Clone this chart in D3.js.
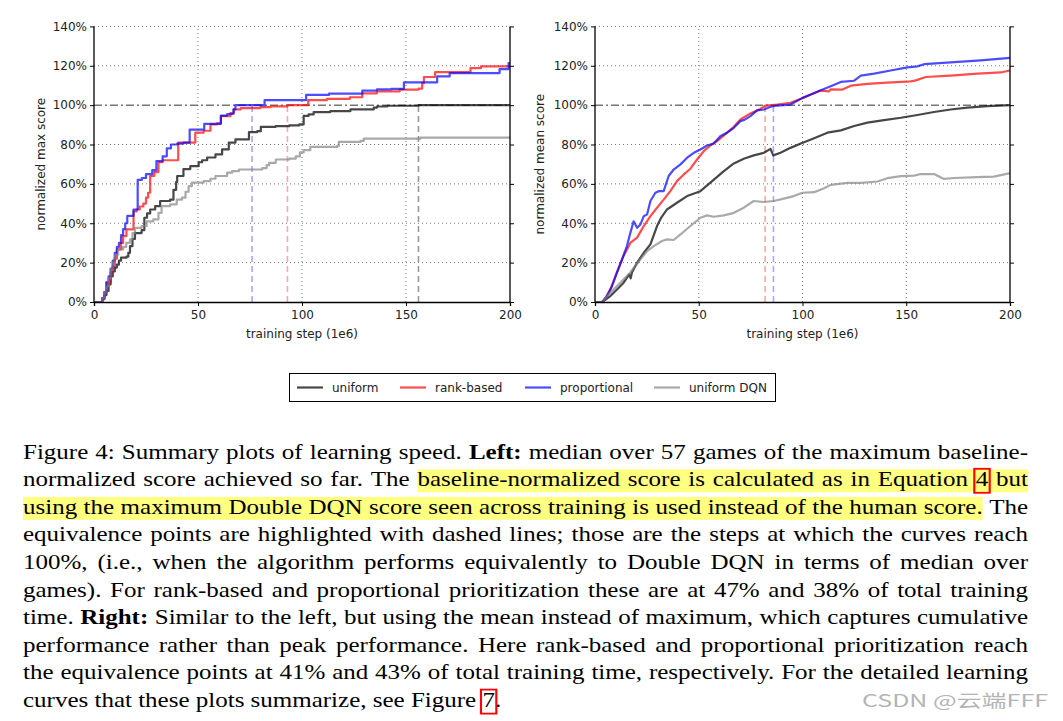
<!DOCTYPE html>
<html>
<head>
<meta charset="utf-8">
<script src="https://cdn.jsdelivr.net/npm/d3@7"></script>
<style>
  html, body { margin: 0; padding: 0; background: #fff; }
  svg { display: block; }
  .cap { font-family: "Liberation Serif", "Times New Roman", Times, serif; }
</style>
</head>
<body>
<svg id="fig" width="1063" height="721"></svg>
<script>
// ---------------- DATA ----------------
const stepTicks = [0, 50, 100, 150, 200];
const scoreTicks = [0, 20, 40, 60, 80, 100, 120, 140];
const seriesNames = ["uniform", "rank-based", "proportional", "uniform DQN"];

// Left: normalized max score (step functions) [training step (1e6), %]
const maxUniform = [[0,0],[2,0],[4,1.5],[5,3.5],[6,5.6],[7,9],[8,13],[9,15.5],[10,17.5],[11,19],[12,21],[13,22.5],[15.6,23],[16.5,25],[17.3,28.4],[18.5,32],[19.7,35],[22.9,36.5],[24.2,42.8],[25.5,45],[27,47],[29.4,48.7],[31.8,51.3],[36.6,52],[38.2,57],[39.5,61],[40,64],[43,67.5],[46.3,69],[50.3,71],[52,72],[54.4,73.4],[58.4,75],[61.6,77.5],[64.8,81],[68,82.6],[74.5,86.3],[78.5,86.8],[80.2,89],[87.4,89.3],[93.9,89.7],[98.7,90.2],[100.8,94.5],[103.2,95.3],[105.6,96.5],[113.6,97],[123.3,97.8],[134.5,98.7],[136,99.3],[141,99.7],[156,100],[200,100]];
const maxRank = [[0,0],[2,0],[4,2],[5,5],[6,9.8],[8,15],[9,18.3],[10,22],[11,26.7],[13,30],[14,33.5],[15.6,36.9],[19,46],[20.5,47],[22,48.5],[23.7,50],[25,53],[26,55.5],[27,64],[29,66],[31,71],[33,72],[40.5,81],[48.7,86],[52.7,87],[56,90.2],[59,90.7],[61,94.4],[65.6,96],[67.3,97.8],[70.5,98.5],[80,99],[85,99.4],[93,100],[103,102.5],[112,103.2],[123,104],[129,106],[136,107],[147,107.9],[156,108.4],[157.8,111.3],[158.6,114.3],[164,116.8],[181,118.8],[186,119.7],[200,119.7]];
const maxProp = [[0,0],[2,0],[4,2],[5,5],[6,10],[7,13],[8,17],[9,21],[10,25],[11,28],[12,30],[13,34],[14,37],[15,40],[16,43.7],[19,47],[21,62],[23,63],[25,65],[28,67],[30,71.6],[33,74],[35,78],[37,80],[40,80.5],[43,81],[46,87.6],[53,90.5],[61,94.7],[64,95.5],[67,97.8],[68,100],[82,102.5],[102,105.2],[113,105.9],[129,107.4],[136,108],[143,108.3],[149,111.6],[165,114.6],[171,116.3],[195,118.3],[199.3,121.3],[200,121.3]];
const maxDqn = [[0,0],[2,0],[4,2],[5,5],[6,8],[7,12],[8,16.6],[9,20],[10,24],[11.6,26.7],[14,28],[15.5,30],[17.3,31.8],[18.5,35],[19.7,37.7],[22.9,38.6],[25.3,41],[28.5,42],[31,45.3],[32.5,48.7],[36.6,49.6],[39.8,52],[42.3,53],[44,56],[45.5,58.9],[47.1,60.6],[52.7,61.4],[56,62.6],[58.4,64],[64,65.7],[66.4,66.5],[69.7,67.3],[80.9,68],[83,69.5],[84.2,70.7],[87.4,72.4],[93.9,72.8],[97,74],[99,76],[100.8,77.1],[104,78.8],[116.9,79.3],[117.7,81.3],[128.1,81.8],[129.7,83],[157,83.5],[200,83.5]];
const maxEquivalence = [76, 93, 156];          // proportional, rank-based, uniform
const maxEquivalenceSeries = [2, 1, 0];

// Right: normalized mean score
const meanUniform = [[0,0],[3.4,0],[7.4,3],[10.6,6.4],[13.8,9.8],[16.5,14],[17.2,12],[17.8,15],[20.3,20],[23.5,25],[26.7,29.3],[29.9,38.6],[32,43],[34.7,47],[39.5,50.4],[44.4,53.8],[50.8,56.3],[55.6,60.6],[62.1,66.5],[66.9,70.4],[71.7,72.8],[76.5,74.5],[81.4,75.8],[84.6,77.8],[85.9,74.5],[89.4,75.8],[94.2,78.3],[99.2,80.5],[105.6,83.2],[112,86],[118.5,87.2],[124.9,89.4],[131.3,91.1],[139.3,92.4],[147.4,93.6],[155.4,95],[163.4,96.5],[171.4,97.8],[179.5,98.7],[189.1,99.5],[200,100]];
const meanRank = [[0,0],[3.9,0],[7.4,6.4],[10.6,15],[13.8,23.4],[17,30],[20.3,32.7],[23.5,38.6],[26.7,43.6],[29.9,47.9],[33.1,52],[36.3,56.3],[39.5,61.4],[42.8,64.8],[46,67.7],[49.2,72.4],[52.4,76.6],[55.6,79.5],[58.8,81.7],[62.1,84.6],[66.9,89],[70.1,92.7],[74.9,95.8],[79.7,98.1],[82.2,99.8],[87.8,100.3],[94.2,101.2],[100,103.5],[104,105.4],[108.8,107.4],[112.8,107],[113.5,108],[119.3,107.9],[123.3,109.9],[131.3,110.8],[140.9,111.4],[152.2,112.1],[154.6,112.6],[159.4,114.3],[171.4,115],[184.3,116],[195.5,116.6],[200,117.6]];
const meanProp = [[0,0],[3.4,0],[5.8,3],[8.2,8],[10.6,15],[13,21.7],[15.4,28.4],[17,35],[18.6,41],[20.3,37.7],[21.9,39.4],[23.5,43.6],[25.1,44.5],[26.7,51.3],[29.1,55.5],[30.7,56.3],[33.1,56.3],[35.5,64],[37.9,67.3],[41.2,69.9],[44.4,73.3],[47.6,75.8],[50.8,77.5],[54,79.5],[57.2,80.5],[60.5,84.3],[63.7,86],[66.9,88.5],[70.1,91.9],[72,92.5],[74.9,94.4],[78.1,97.3],[81.4,97.8],[84.6,99.2],[87.8,99.8],[94.2,100.3],[100,103.7],[104,105.4],[108.8,107.6],[113.6,109.6],[118.5,111.8],[124.9,112.4],[128.1,115],[134.5,116],[142.5,117.6],[150.6,119.2],[155.4,119.7],[158.6,120.8],[171.4,121.7],[185.9,122.7],[200,124]];
const meanDqn = [[0,0],[3.4,0],[7.4,4.7],[12.2,9.8],[17,15],[21.9,21.7],[25.1,25.9],[28.3,28.4],[32.3,31],[34.7,31.8],[37.9,31.5],[41.2,34.3],[44.4,37.2],[47.6,40],[50.8,42.8],[54,44],[57.2,43.3],[62.1,44],[66.9,45.3],[71.7,47.9],[76.5,51.3],[81.4,50.8],[86.2,51.3],[91,52.5],[95.8,53.8],[100,55.5],[105.6,55.8],[110.4,57.8],[113.6,59.5],[121.7,60.5],[128.1,60.5],[136.1,61.2],[140.9,62.9],[147.4,63.9],[153.8,64.2],[157,65],[163.4,65],[168.2,62.5],[173.1,63],[184.3,63.4],[192.3,63.7],[200,65.5]];
const meanEquivalence = [82, 86];              // rank-based, proportional
const meanEquivalenceSeries = [1, 2];

const captionLines = [
  "Figure 4:  Summary plots of learning speed. **Left:** median over 57 games of the maximum baseline-",
  "normalized score achieved so far. The ==baseline-normalized score is calculated as in Equation [4] but==",
  "==using the maximum Double DQN score seen across training is used instead of the human score.== The",
  "equivalence points are highlighted with dashed lines; those are the steps at which the curves reach",
  "100%, (i.e., when the algorithm performs equivalently to Double DQN in terms of median over",
  "games). For rank-based and proportional prioritization these are at 47% and 38% of total training",
  "time. **Right:** Similar to the left, but using the mean instead of maximum, which captures cumulative",
  "performance rather than peak performance.  Here rank-based and proportional prioritization reach",
  "the equivalence points at 41% and 43% of total training time, respectively. For the detailed learning",
  "curves that these plots summarize, see Figure [7]."
];
const watermark = "CSDN @云端FFF";

// ---------------- STYLE ----------------
const colors = ["rgba(0,0,0,0.72)", "rgba(255,0,0,0.7)", "rgba(0,0,255,0.7)", "rgba(128,128,128,0.68)"];
const dashColors = ["rgba(0,0,0,0.4)", "rgba(255,0,0,0.35)", "rgba(0,0,255,0.35)"];
const tickFont = "DejaVu Sans, Verdana, sans-serif";

const svg = d3.select("#fig");
const y = d3.scaleLinear().domain([0, 140]).range([302, 26.4]);

function panel(x0, x1, data, curve, equiv, equivSeries, ylabel, ylabelX) {
  const x = d3.scaleLinear().domain([0, 200]).range([x0, x1]);
  const g = svg.append("g");

  g.append("g").selectAll("line").data(stepTicks.filter(d => d > 0 && d < 200)).join("line")
    .attr("x1", d => x(d)).attr("x2", d => x(d)).attr("y1", y(0)).attr("y2", y(140))
    .attr("stroke", "#777").attr("stroke-width", 1).attr("stroke-dasharray", "1,3");
  g.append("g").selectAll("line").data(scoreTicks.filter(d => d > 0 && d !== 100)).join("line")
    .attr("x1", x(0)).attr("x2", x(200)).attr("y1", d => y(d)).attr("y2", d => y(d))
    .attr("stroke", "#777").attr("stroke-width", 1).attr("stroke-dasharray", "1,3");

  g.append("line").attr("x1", x(0)).attr("x2", x(200)).attr("y1", y(100)).attr("y2", y(100))
    .attr("stroke", "rgba(60,60,60,0.7)").attr("stroke-width", 1.5).attr("stroke-dasharray", "8,3,2,3");

  g.append("g").selectAll("line").data(equiv).join("line")
    .attr("x1", d => x(d)).attr("x2", d => x(d)).attr("y1", y(0)).attr("y2", y(100))
    .attr("stroke", (d, i) => dashColors[equivSeries[i]]).attr("stroke-width", 1.6)
    .attr("stroke-dasharray", "6,4");

  const line = d3.line().x(d => x(d[0])).y(d => y(d[1])).curve(curve);
  g.append("g").selectAll("path").data(data).join("path")
    .attr("d", d => line(d)).attr("fill", "none")
    .attr("stroke", (d, i) => colors[i]).attr("stroke-width", 2.2)
    .attr("stroke-linejoin", "round");

  const left = d3.axisLeft(y).tickValues(scoreTicks).tickFormat(d => d + "%").tickSize(4).tickPadding(3);
  const right = d3.axisRight(y).tickValues(scoreTicks).tickFormat("").tickSize(4);
  const bottom = d3.axisBottom(x).tickValues(stepTicks).tickFormat(d3.format("d")).tickSize(4).tickPadding(4);
  const styleAx = a => {
    a.select(".domain").attr("stroke", "#000").attr("stroke-width", 1.3);
    a.selectAll(".tick line").attr("stroke", "#000").attr("stroke-width", 1);
    a.selectAll("text").attr("font-family", tickFont).attr("font-size", 12).attr("fill", "#222");
  };
  g.append("g").attr("transform", `translate(${x(0)},0)`).call(left).call(styleAx)
    .call(a => a.select(".domain").attr("d", `M0,${y(140)}V${y(0)}`));
  g.append("g").attr("transform", `translate(${x(200)},0)`).call(right).call(styleAx)
    .call(a => a.select(".domain").attr("d", `M0,${y(140)}V${y(0)}`));
  g.append("g").attr("transform", `translate(0,${y(0)})`).call(bottom).call(styleAx);

  g.append("text").attr("x", (x0 + x1) / 2).attr("y", 338).attr("text-anchor", "middle")
    .attr("font-family", tickFont).attr("font-size", 12).attr("fill", "#222")
    .text("training step (1e6)");
  g.append("text").attr("transform", `translate(${ylabelX},${(y(0) + y(140)) / 2}) rotate(-90)`)
    .attr("text-anchor", "middle").attr("dy", "0.35em")
    .attr("font-family", tickFont).attr("font-size", 12).attr("fill", "#222")
    .text(ylabel);
}

panel(94, 510, [maxUniform, maxRank, maxProp, maxDqn], d3.curveStepAfter,
      maxEquivalence, maxEquivalenceSeries, "normalized max score", 41);
panel(595, 1010, [meanUniform, meanRank, meanProp, meanDqn], d3.curveLinear,
      meanEquivalence, meanEquivalenceSeries, "normalized mean score", 540);

// legend
const lg = svg.append("g");
lg.append("rect").attr("x", 289.5).attr("y", 373.5).attr("width", 486).attr("height", 28)
  .attr("fill", "#fff").attr("stroke", "#000").attr("stroke-width", 1);
const legendX = [297, 400, 525, 654];
const le = lg.selectAll("g").data(seriesNames).join("g")
  .attr("transform", (d, i) => `translate(${legendX[i]},387.5)`);
le.append("line").attr("x1", 0).attr("x2", 26).attr("stroke", (d, i) => colors[i]).attr("stroke-width", 2.2);
le.append("text").attr("x", 35).attr("dy", "0.35em").attr("font-family", tickFont)
  .attr("font-size", 12).attr("fill", "#222").text(d => d);

// caption (justified, word by word)
const sx = 1.19, fs = 21, lineGap = 27.6, base0 = 458.7;
const capW = 1005 / sx, capX = 23 / sx;
const cap = svg.append("g").attr("class", "cap").attr("transform", `scale(${sx},1)`)
  .attr("font-size", fs).attr("fill", "#000");
const meas = cap.append("text").attr("x", -1000).attr("y", -1000);
function width(t, bold) {
  meas.text(t).attr("font-weight", bold ? "bold" : "normal");
  return meas.node().getComputedTextLength();
}
const spaceW = 0.25 * fs;
const hlLayer = cap.append("g"), textLayer = cap.append("g");
captionLines.forEach((ln, li) => {
  const baseY = base0 + li * lineGap;
  let hl = false;
  const words = ln.split(" ").filter(w => w.length).map(w => {
    let bold = false, hlEnd = false;
    if (w.startsWith("==")) { hl = true; w = w.slice(2); }
    if (w.endsWith("==")) { hlEnd = true; w = w.slice(0, -2); }
    if (w.startsWith("**") && w.endsWith("**")) { bold = true; w = w.slice(2, -2); }
    const wordHl = hl;
    if (hlEnd) hl = false;
    let pieces;
    const m = w.match(/^\[(.+)\](.*)$/);
    if (m) pieces = [{ t: m[1], box: true }].concat(m[2] ? [{ t: m[2] }] : []);
    else pieces = [{ t: w }];
    pieces.forEach(p => { p.bold = bold; p.w = width(p.t, bold); });
    return { pieces, hl: wordHl, w: d3.sum(pieces, p => p.w) };
  });
  const total = d3.sum(words, w => w.w);
  const last = li === captionLines.length - 1;
  const gap = last ? spaceW : (capW - total) / (words.length - 1);
  let cx = capX;
  words.forEach(wd => {
    wd.x = cx;
    let px = cx;
    wd.pieces.forEach(p => {
      textLayer.append("text").attr("x", px).attr("y", baseY)
        .attr("font-weight", p.bold ? "bold" : "normal").text(p.t);
      if (p.box) {
        textLayer.append("rect").attr("x", px - 1.2).attr("y", baseY - 17.5)
          .attr("width", p.w + 2.4).attr("height", 24).attr("fill", "none")
          .attr("stroke", "#ff0000").attr("stroke-width", 1.8);
      }
      px += p.w;
    });
    cx += wd.w + gap;
  });
  const hw = words.filter(w => w.hl);
  if (hw.length) {
    const a = hw[0].x, b = hw[hw.length - 1].x + hw[hw.length - 1].w;
    hlLayer.append("rect").attr("x", a).attr("y", baseY - 17).attr("width", b - a).attr("height", 23)
      .attr("fill", "#ffff80");
  }
});
meas.remove();

svg.append("text").attr("x", 862).attr("y", 707)
  .attr("textLength", 186).attr("lengthAdjust", "spacingAndGlyphs")
  .attr("font-family", "'Noto Sans CJK SC', sans-serif").attr("font-size", 17)
  .attr("fill", "#b4b4b4").text(watermark);
</script>
</body>
</html>
